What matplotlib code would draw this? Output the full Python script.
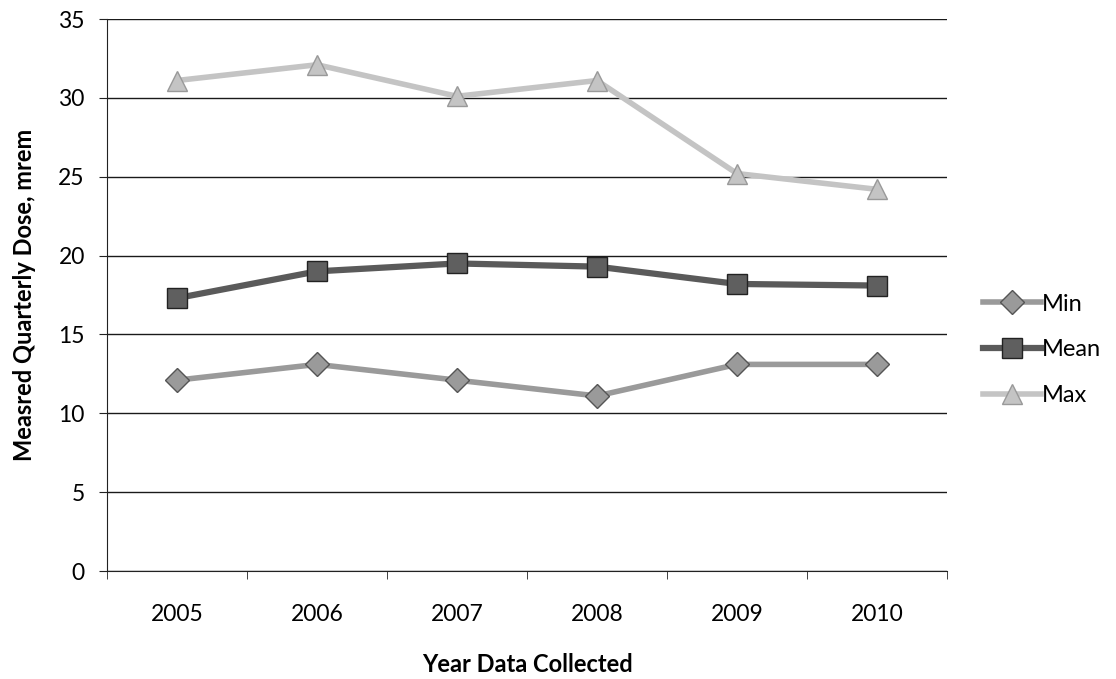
import numpy as np
import matplotlib
matplotlib.use("Agg")
from matplotlib import pyplot as plt

years = ["2005", "2006", "2007", "2008", "2009", "2010"]
min_dose = [12.1, 13.1, 12.1, 11.1, 13.1, 13.1]
mean_dose = [17.3, 19.0, 19.5, 19.3, 18.2, 18.1]
max_dose = [31.1, 32.1, 30.1, 31.1, 25.2, 24.2]

plt.rcParams['font.family'] = ['Lato', 'DejaVu Sans']

fig = plt.figure(figsize=(11.16, 6.79), dpi=100)
ax = fig.add_axes([107 / 1116, 1 - 571 / 679, 840 / 1116, 552 / 679])

x = np.arange(len(years))
ax.plot(x, min_dose, color='#9a9a9a', lw=4, marker='D', ms=12,
        mfc='#9a9a9a', mec='#555555', mew=1, label='Min', zorder=3)
ax.plot(x, mean_dose, color='#5a5a5a', lw=4.5, marker='s', ms=14,
        mfc='#5f5f5f', mec='#222222', mew=1, label='Mean', zorder=3)
ax.plot(x, max_dose, color='#c4c4c4', lw=4, marker='^', ms=14,
        mfc='#c4c4c4', mec='#999999', mew=1, label='Max', zorder=3)

ax.set_xlim(-0.5, len(years) - 0.5)
ax.set_ylim(0, 35)
ax.set_yticks(range(0, 36, 5))
ax.set_xticks(x)
ax.set_xticklabels(years)
ax.set_xticks(np.arange(-0.5, len(years), 1), minor=True)
ax.tick_params(axis='x', which='major', length=0, pad=24, labelsize=16.5)
ax.tick_params(axis='x', which='minor', length=6, direction='out', color='#222222')
ax.tick_params(axis='y', length=6, direction='out', labelsize=16.5, pad=10, color='#222222')

ax.grid(axis='y', color='#1a1a1a', lw=1)
ax.set_axisbelow(True)
for s in ['top', 'right']:
    ax.spines[s].set_visible(False)
ax.spines['left'].set_color('#222222')
ax.spines['bottom'].set_color('#222222')

ax.set_xlabel('Year Data Collected', fontsize=17, fontweight='bold', labelpad=20)
ax.set_ylabel('Measred Quarterly Dose, mrem', fontsize=17, fontweight='bold', labelpad=16)

fig.legend(loc='center left', bbox_to_anchor=(962 / 1116, 1 - 350 / 679),
           frameon=False, fontsize=17, handlelength=2.45, handletextpad=0.05,
           labelspacing=1.05)

fig.savefig('out.png', dpi=100)
